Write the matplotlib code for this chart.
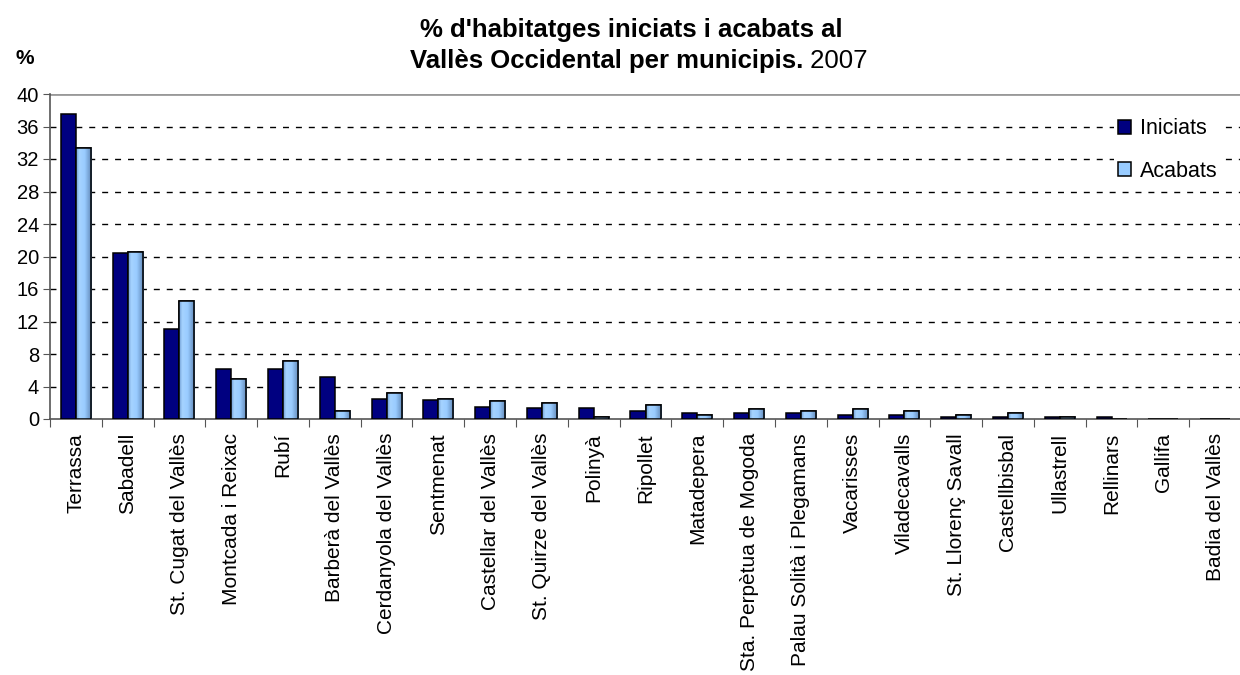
import numpy as np
import matplotlib.pyplot as plt
from matplotlib.colors import LinearSegmentedColormap

plt.rcParams['font.family'] = ['Liberation Sans', 'DejaVu Sans']

municipis = ["Terrassa", "Sabadell", "St. Cugat del Vallès", "Montcada i Reixac", "Rubí",
             "Barberà del Vallès", "Cerdanyola del Vallès", "Sentmenat", "Castellar del Vallès",
             "St. Quirze del Vallès", "Polinyà", "Ripollet", "Matadepera",
             "Sta. Perpètua de Mogoda", "Palau Solità i Plegamans", "Vacarisses", "Viladecavalls",
             "St. Llorenç Savall", "Castellbisbal", "Ullastrell", "Rellinars", "Gallifa",
             "Badia del Vallès"]
iniciats = [37.6, 20.4, 11.1, 6.2, 6.2, 5.2, 2.5, 2.3, 1.5, 1.3, 1.3, 1.0, 0.7,
            0.7, 0.7, 0.5, 0.5, 0.25, 0.25, 0.25, 0.25, 0.0, 0.0]
acabats = [33.4, 20.6, 14.5, 4.9, 7.1, 1.0, 3.2, 2.5, 2.25, 2.0, 0.3, 1.7, 0.5,
           1.2, 1.0, 1.2, 1.0, 0.5, 0.7, 0.25, 0.0, 0.0, 0.0]
yticks = list(range(0, 41, 4))

fig = plt.figure(figsize=(12.4, 6.75), dpi=100)
# zona del gràfic en píxels
ax = fig.add_axes([50 / 1240, 1 - 419 / 675, 1191 / 1240, 325 / 675])

x = np.arange(len(municipis))
w = 0.29
ax.bar(x - w / 2, iniciats, w, color="#000080", edgecolor="black", linewidth=1.1,
       label="Iniciats", zorder=3)
b2 = ax.bar(x + w / 2, acabats, w, color="#99CCFF", edgecolor="black", linewidth=1.1,
            label="Acabats", zorder=3)

# degradat horitzontal de les barres "Acabats"
grad = LinearSegmentedColormap.from_list(
    "acabats", [(0, "#6E9BD0"), (0.2, "#A6D3FF"), (0.55, "#99CCFF"), (1, "#5F85B5")])
for bar in b2:
    if bar.get_height() <= 0:
        continue
    bx, by = bar.get_x(), bar.get_y()
    im = ax.imshow(np.linspace(0, 1, 64).reshape(1, -1), cmap=grad, aspect="auto",
                   extent=(bx, bx + bar.get_width(), by, by + bar.get_height()),
                   zorder=3.5, interpolation="bilinear")
    im.set_clip_path(bar)
    edge = plt.Rectangle((bx, by), bar.get_width(), bar.get_height(), fill=False,
                         edgecolor="black", linewidth=1.1, zorder=4)
    ax.add_patch(edge)

ax.set_xlim(-0.5, len(municipis) - 0.5)
ax.set_ylim(0, 40)
ax.set_yticks(yticks)
ax.tick_params(axis="y", labelsize=14.5, length=5, direction="out", color="#555555", pad=3)
for t in yticks[1:-1]:
    ax.axhline(t, color="black", linestyle=(0, (4.3, 5)), linewidth=1.0, zorder=1)
ax.axhline(40, color="#999999", linewidth=2, zorder=1)

# ticks entre categories, etiquetes al centre
ax.set_xticks(x - 0.5)
ax.set_xticklabels([])
ax.tick_params(axis="x", length=6, direction="out", color="#555555")
ax.set_xticks(x, minor=True)
ax.set_xticklabels(municipis, minor=True, rotation=90, fontsize=15, va="top", ha="center")
ax.tick_params(axis="x", which="minor", length=0, pad=10)

for s in ["top", "right"]:
    ax.spines[s].set_visible(False)
ax.spines["left"].set_color("#555555")
ax.spines["bottom"].set_color("#555555")
ax.spines["left"].set_linewidth(1.2)
ax.spines["bottom"].set_linewidth(1.2)

fig.text(631.5 / 1240, 1 - 37 / 675, "% d'habitatges iniciats i acabats al", fontsize=18.5,
         fontweight="bold", ha="center", va="baseline")
fig.text(803 / 1240, 1 - 68 / 675, "Vallès Occidental per municipis.", fontsize=18.5,
         fontweight="bold", ha="right", va="baseline")
fig.text(803 / 1240, 1 - 68 / 675, " 2007", fontsize=18.5, ha="left", va="baseline")
fig.text(15 / 1240, 1 - 64 / 675, "%", fontsize=15, fontweight="bold", ha="left", va="baseline")

leg = ax.legend(loc="upper left", bbox_to_anchor=(1114 / 1240, 1 - 114 / 675),
                bbox_transform=fig.transFigure, frameon=True, fontsize=15.5,
                handlelength=0.6, handleheight=0.6, handletextpad=0.4, labelspacing=1.0,
                borderpad=0.2, borderaxespad=0)
leg.get_frame().set_edgecolor("none")
leg.get_frame().set_facecolor("white")
leg.get_frame().set_alpha(1)
leg.set_zorder(5)

fig.savefig("out.png", dpi=100)
